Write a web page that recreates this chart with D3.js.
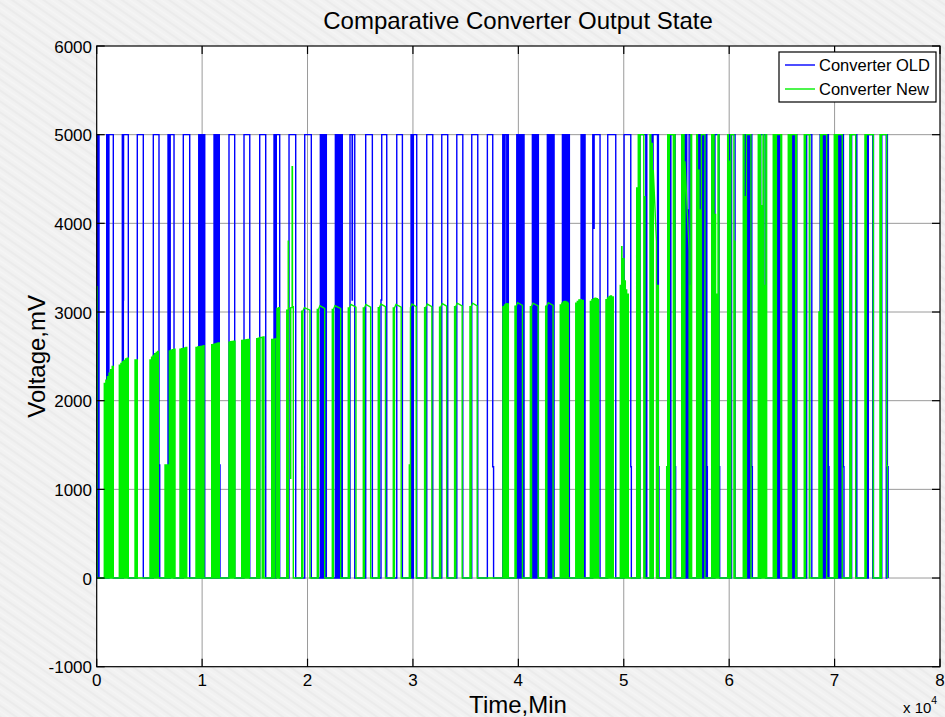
<!DOCTYPE html>
<html>
<head>
<meta charset="utf-8">
<script src="https://cdn.jsdelivr.net/npm/d3@7"></script>
<style>
  html, body { margin: 0; padding: 0; background: #f0f0f0; }
  svg { display: block; }
  text { font-family: "Liberation Sans", Arial, Helvetica, sans-serif; fill: #000; }
</style>
</head>
<body>
<svg id="chart" width="945" height="717"></svg>
<script>
// ---- axis ticks -------------------------------------------------------
const xTickValues = [0, 1, 2, 3, 4, 5, 6, 7, 8];          // in units of 10^4 min
const yTickValues = [-1000, 0, 1000, 2000, 3000, 4000, 5000, 6000];
const seriesNames = ["Converter OLD", "Converter New"];
const seriesColors = ["#0000ff", "#00f000"];

// ---- recorded output levels -------------------------------------------
// Each entry is a period where the output is above 0 V:
// [start min, end min, level mV] or [start, end, level at start, level at end].
// Between entries the output sits at 0 mV; touching entries step directly.
const oldSegments = [
  [0, 50, 5000], [100, 220, 5000],
  [950, 1000, 5000], [1060, 1110, 5000], [1160, 1575, 5000],
  [2430, 2480, 5000], [2530, 2550, 3135], [2550, 3000, 5000],
  [3850, 4420, 5000],
  [5370, 5910, 5000], [5910, 5980, 1275],
  [6765, 6815, 5000], [6870, 6920, 5000], [6975, 7335, 5000],
  [8215, 8825, 5000],
  [9680, 9755, 5000], [9830, 9905, 5000], [9980, 10055, 5000], [10130, 10250, 5000],
  [11130, 11205, 5000], [11280, 11300, 3135], [11300, 11355, 5000], [11430, 11505, 5000], [11560, 11630, 5000], [11630, 11700, 1275],
  [12550, 13090, 5000],
  [13975, 14520, 5000],
  [15465, 16035, 5000],
  [16820, 16870, 5000], [16930, 16980, 5000], [17040, 17360, 5000],
  [18245, 18880, 5000],
  [19735, 20360, 5000],
  [21215, 21290, 5000], [21365, 21440, 5000], [21515, 21590, 5000], [21665, 21785, 5000],
  [22640, 22715, 5000], [22790, 22865, 5000], [22940, 23015, 5000], [23090, 23165, 5000], [23220, 23300, 5000],
  [24030, 24230, 5000], [24230, 24260, 3135], [24260, 24480, 5000],
  [25520, 26150, 5000],
  [26970, 27040, 3135], [27040, 27515, 5000],
  [28465, 29000, 5000],
  [29820, 29870, 5000], [29930, 29980, 5000], [30040, 30360, 5000],
  [31310, 31880, 5000],
  [32735, 33300, 5000],
  [34160, 34730, 5000],
  [35580, 36150, 5000],
  [37060, 37570, 5000], [37570, 37650, 1255],
  [38520, 38570, 5000], [38630, 38680, 5000], [38740, 38900, 5000], [38960, 39050, 5000],
  [39850, 39925, 5000], [40000, 40075, 5000], [40150, 40225, 5000], [40300, 40375, 5000], [40450, 40540, 5000],
  [41330, 41405, 5000], [41480, 41555, 5000], [41630, 41705, 5000], [41780, 41900, 5000],
  [42750, 42825, 5000], [42900, 42975, 5000], [43050, 43125, 5000], [43200, 43275, 5000], [43330, 43390, 5000],
  [44180, 44255, 5000], [44330, 44405, 5000], [44480, 44555, 5000], [44630, 44705, 5000], [44760, 44840, 5000],
  [45950, 46025, 5000], [46100, 46175, 5000], [46250, 46330, 5000],
  [47060, 47150, 5000], [47150, 47190, 3945], [47190, 47750, 5000],
  [48480, 49240, 5000],
  [50030, 50665, 5000], [50665, 50720, 1255],
  [51425, 51475, 5000], [51540, 52090, 5000], [52150, 52185, 5000],
  [52660, 52720, 5000], [52780, 53200, 5000], [53250, 53285, 5000], [53285, 53340, 1255],
  [54175, 54250, 5000], [54320, 54395, 5000], [54470, 54870, 5000], [54870, 54920, 1255],
  [55600, 55675, 5000], [55750, 55825, 5000], [55900, 55975, 5000], [56050, 56125, 4150], [56200, 56360, 5000],
  [57080, 57155, 5000], [57230, 57305, 5000], [57380, 57455, 5000], [57530, 57605, 5000], [57680, 57755, 5000], [57800, 57880, 5000], [57880, 57930, 1255],
  [58505, 58580, 5000], [58650, 59040, 5000], [59040, 59100, 1255],
  [59930, 60005, 5000], [60080, 60155, 5000], [60230, 60560, 5000],
  [61445, 61520, 5000], [61595, 61670, 5000], [61745, 61820, 5000], [61895, 61970, 5000], [62045, 62150, 5000], [62150, 62200, 1255],
  [62840, 62915, 5000], [62990, 63410, 5000], [63410, 63460, 1255],
  [64290, 64365, 5000], [64440, 64515, 5000], [64590, 64665, 5000], [64740, 64830, 5000],
  [65685, 65760, 5000], [65835, 65910, 5000], [65985, 66060, 5000], [66135, 66210, 5000], [66285, 66415, 5000],
  [67200, 67275, 5000], [67350, 67840, 5000],
  [68625, 68700, 5000], [68775, 68850, 5000], [68925, 69000, 5000], [69075, 69150, 5000], [69225, 69300, 5000], [69350, 69415, 5000], [69415, 69470, 1255],
  [70115, 70190, 5000], [70265, 70340, 5000], [70415, 70490, 5000], [70565, 70640, 5000], [70715, 70840, 5000], [70840, 70890, 1255],
  [71475, 71550, 5000], [71620, 72040, 5000], [72070, 72110, 5000],
  [73060, 73130, 5000], [73200, 73620, 5000], [73650, 73690, 5000],
  [74480, 74900, 5000], [74950, 75010, 5000], [75010, 75080, 1255]
];

const newSegments = [
  [0, 30, 3285],
  [720, 795, 2195], [870, 945, 2230], [1020, 1095, 2270], [1170, 1245, 2310], [1320, 1395, 2350], [1470, 1575, 2385],
  [2145, 2220, 2400], [2295, 2370, 2420], [2445, 2520, 2440], [2595, 2670, 2455], [2745, 2820, 2470], [2895, 3000, 2480],
  [3635, 3700, 2460], [3780, 3850, 2460],
  [5055, 5130, 2460], [5205, 5280, 2490], [5355, 5430, 2510], [5505, 5580, 2530], [5655, 5730, 2545], [5780, 5845, 2555],
  [6480, 6550, 1275], [6630, 6700, 1275], [6780, 6850, 1275], [6890, 6960, 2560], [7040, 7110, 2570], [7190, 7260, 2575], [7340, 7430, 2580],
  [7900, 7975, 2580], [8050, 8125, 2585], [8200, 8275, 2590], [8350, 8425, 2595], [8470, 8540, 2600],
  [9420, 9495, 2600], [9570, 9645, 2605], [9720, 9795, 2610], [9870, 9945, 2612], [10020, 10095, 2615], [10130, 10180, 2620],
  [10910, 10985, 2630], [11060, 11135, 2635], [11210, 11285, 2640], [11360, 11435, 2645], [11510, 11630, 2650],
  [12550, 12625, 2660], [12700, 12775, 2665], [12850, 12925, 2668], [13000, 13120, 2670],
  [13755, 13830, 2680], [13905, 13980, 2683], [14055, 14130, 2686], [14205, 14280, 2688], [14355, 14475, 2690],
  [15180, 15255, 2700], [15330, 15405, 2705], [15480, 15700, 2712], [15780, 15870, 2720],
  [16600, 16675, 2690], [16750, 16825, 2692], [16900, 17060, 2695], [17100, 17175, 3040], [17250, 17320, 3050],
  [18025, 18100, 3020], [18170, 18190, 3800], [18190, 18380, 3040], [18380, 18410, 1125], [18410, 18540, 3050], [18540, 18570, 4640], [18570, 18650, 3060],
  [19445, 19495, 3010], [19555, 19700, 3010, 3050], [19700, 20235, 3050, 3020],
  [20925, 20975, 3030], [21035, 21180, 3030, 3070], [21180, 21630, 3070, 3040],
  [22350, 22400, 3030], [22460, 22600, 3030, 3070], [22600, 23145, 3070, 3040],
  [23865, 23915, 3045], [23975, 24120, 3045, 3085], [24120, 24595, 3085, 3055],
  [25290, 25340, 3045], [25400, 25540, 3045, 3085], [25540, 25990, 3085, 3055],
  [26710, 26760, 3050], [26820, 26960, 3050, 3090], [26960, 27395, 3090, 3060],
  [28135, 28185, 3045], [28245, 28390, 3045, 3085], [28390, 28885, 3085, 3055],
  [29655, 29705, 1275], [29765, 29910, 3050, 3090], [29910, 30310, 3090, 3060],
  [31105, 31155, 3050], [31215, 31360, 3050, 3090], [31360, 31795, 3090, 3060],
  [32525, 32575, 3055], [32635, 32780, 3055, 3095], [32780, 33200, 3095, 3065],
  [33950, 34000, 3060], [34060, 34200, 3060, 3100], [34200, 34670, 3100, 3070],
  [35410, 35460, 3060], [35520, 35660, 3060, 3100], [35660, 36095, 3100, 3070],
  [38540, 38615, 3060], [38690, 38765, 3080], [38840, 38915, 3095], [38970, 39045, 3090],
  [39680, 39730, 3065], [39790, 39930, 3065, 3105], [39930, 40390, 3105, 3075],
  [41140, 41190, 3060], [41250, 41390, 3060, 3100], [41390, 41880, 3100, 3070],
  [42590, 42640, 3065], [42700, 42840, 3065, 3105], [42840, 43295, 3105, 3075],
  [43975, 44050, 3080], [44125, 44200, 3100], [44200, 44220, 820], [44275, 44350, 3115], [44425, 44500, 3120], [44575, 44650, 3110], [44690, 44735, 3100],
  [45445, 45520, 3100], [45595, 45670, 3120], [45745, 45820, 3135], [45895, 45970, 3140], [46045, 46160, 3130],
  [46830, 46905, 3120], [46980, 47055, 3140], [47130, 47205, 3150], [47280, 47355, 3155], [47430, 47505, 3150], [47560, 47610, 3140],
  [48310, 48385, 3140], [48460, 48535, 3160], [48610, 48685, 3175], [48760, 48835, 3180], [48910, 49005, 3170],
  [49670, 49745, 3300], [49800, 49830, 3737], [49830, 49900, 3450], [49950, 50025, 3600], [50080, 50150, 3350], [50200, 50275, 3250], [50330, 50430, 3200],
  [51225, 51300, 4400], [51375, 51450, 5000], [51550, 51900, 5000], [51950, 52010, 4300],
  [52485, 52560, 5000], [52635, 52710, 4900], [52800, 53100, 4600, 3800], [53180, 53275, 3300],
  [54070, 54120, 1255], [54170, 54245, 5000], [54320, 54700, 5000], [54770, 54860, 5000],
  [55495, 55570, 5000], [55645, 55720, 5000], [55800, 56200, 4700, 3700], [56245, 56320, 3300], [56370, 56440, 5000],
  [56915, 56990, 5000], [57065, 57140, 4600], [57215, 57290, 4150], [57365, 57700, 5000],
  [58340, 58415, 5000], [58490, 58565, 5000], [58640, 58715, 4100], [58790, 58865, 3200], [58940, 59030, 5000],
  [59855, 59930, 5000], [60005, 60080, 4700], [60155, 60450, 5000], [60470, 60550, 3800],
  [61335, 61410, 5000], [61485, 61560, 4300], [61635, 62065, 5000],
  [62760, 62835, 5000], [62910, 62985, 5000], [63060, 63135, 4200], [63210, 63285, 5000], [63360, 63435, 3300], [63485, 63555, 5000],
  [64180, 64255, 5000], [64330, 64405, 5000], [64480, 64900, 5000], [64910, 64980, 5000],
  [65605, 65680, 5000], [65755, 65830, 5000], [65905, 66300, 5000], [66330, 66400, 5000],
  [67120, 67180, 5000], [67240, 67600, 5000], [67620, 67660, 5000],
  [68515, 68590, 3000], [68665, 68740, 5000], [68815, 69245, 5000],
  [69970, 70045, 5000], [70120, 70195, 5000], [70270, 70725, 5000],
  [71460, 71520, 5000], [71580, 72000, 5000],
  [72880, 72940, 5000], [73000, 73670, 5000],
  [74305, 74370, 5000], [74430, 74940, 5000], [74940, 75000, 1265]
];

// ---- layout -----------------------------------------------------------
const W = 945, H = 717;
const plot = { left: 96.7, right: 940, top: 46, bottom: 666.7 };
const tickLen = 8;

const svg = d3.select("#chart");

// soft paper backdrop
const defs = svg.append("defs");
const pat = defs.append("pattern")
  .attr("id", "paper").attr("patternUnits", "userSpaceOnUse")
  .attr("width", 9).attr("height", 9)
  .attr("patternTransform", "rotate(35)");
pat.append("rect").attr("width", 9).attr("height", 9).attr("fill", "#f1f1f1");
pat.append("line").attr("x1", 0).attr("y1", 2).attr("x2", 9).attr("y2", 2)
  .attr("stroke", "#eaeaea").attr("stroke-width", 1.5);
pat.append("line").attr("x1", 0).attr("y1", 6.5).attr("x2", 9).attr("y2", 6.5)
  .attr("stroke", "#f5f5f5").attr("stroke-width", 1.5);
svg.append("rect").attr("width", W).attr("height", H).attr("fill", "url(#paper)");

defs.append("clipPath").attr("id", "plotClip")
  .append("rect")
  .attr("x", plot.left).attr("y", plot.top)
  .attr("width", plot.right - plot.left).attr("height", plot.bottom - plot.top);

const x = d3.scaleLinear().domain([0, 80000]).range([plot.left, plot.right]);
const y = d3.scaleLinear().domain([-1000, 6000]).range([plot.bottom, plot.top]);

// plot area
svg.append("rect")
  .attr("x", plot.left).attr("y", plot.top)
  .attr("width", plot.right - plot.left).attr("height", plot.bottom - plot.top)
  .attr("fill", "#ffffff");

// grid
const grid = svg.append("g").attr("stroke", "#9a9a9a").attr("stroke-width", 1);
grid.selectAll(".gx").data(xTickValues.slice(1, -1)).join("line")
  .attr("x1", d => x(d * 1e4)).attr("x2", d => x(d * 1e4))
  .attr("y1", plot.top).attr("y2", plot.bottom);
grid.selectAll(".gy").data(yTickValues.slice(1, -1)).join("line")
  .attr("y1", d => y(d)).attr("y2", d => y(d))
  .attr("x1", plot.left).attr("x2", plot.right);

// signal traces
function stepPoints(segs) {
  const pts = [];
  let prevEnd = null;
  segs.forEach(s => {
    const t0 = s[0], t1 = s[1], v0 = s[2], v1 = s.length > 3 ? s[3] : s[2];
    if (prevEnd === null) pts.push([t0, 0]);
    else if (t0 > prevEnd) { pts.push([prevEnd, 0]); pts.push([t0, 0]); }
    pts.push([t0, v0]);
    pts.push([t1, v1]);
    prevEnd = t1;
  });
  pts.push([prevEnd, 0]);
  return pts;
}

const line = d3.line().x(d => x(d[0])).y(d => y(d[1]));
const traces = svg.append("g").attr("clip-path", "url(#plotClip)");
[oldSegments, newSegments].forEach((segs, i) => {
  traces.append("path")
    .attr("d", line(stepPoints(segs)))
    .attr("fill", "none")
    .attr("stroke", seriesColors[i])
    .attr("stroke-width", 1.4)
    .attr("stroke-linejoin", "miter");
});

// axes box and inward ticks on all four sides
const axes = svg.append("g").attr("stroke", "#000").attr("stroke-width", 1.2).attr("fill", "none");
axes.append("rect")
  .attr("x", plot.left).attr("y", plot.top)
  .attr("width", plot.right - plot.left).attr("height", plot.bottom - plot.top);
xTickValues.forEach(d => {
  const px = x(d * 1e4);
  axes.append("line").attr("x1", px).attr("x2", px).attr("y1", plot.bottom).attr("y2", plot.bottom - tickLen);
  axes.append("line").attr("x1", px).attr("x2", px).attr("y1", plot.top).attr("y2", plot.top + tickLen);
});
yTickValues.forEach(d => {
  const py = y(d);
  axes.append("line").attr("y1", py).attr("y2", py).attr("x1", plot.left).attr("x2", plot.left + tickLen);
  axes.append("line").attr("y1", py).attr("y2", py).attr("x1", plot.right).attr("x2", plot.right - tickLen);
});

// tick labels
svg.append("g").selectAll("text").data(xTickValues).join("text")
  .attr("x", d => x(d * 1e4)).attr("y", 686)
  .attr("text-anchor", "middle").attr("font-size", 17)
  .text(d => d);
svg.append("g").selectAll("text").data(yTickValues).join("text")
  .attr("x", 92).attr("y", d => y(d) + 6.5)
  .attr("text-anchor", "end").attr("font-size", 17)
  .text(d => d);

// exponent note for the time axis
const expo = svg.append("text").attr("x", 903).attr("y", 713).attr("font-size", 15);
expo.append("tspan").text("x 10");
expo.append("tspan").attr("font-size", 10.5).attr("dy", -9).text("4");

// titles
svg.append("text").attr("x", 518).attr("y", 29)
  .attr("text-anchor", "middle").attr("font-size", 24)
  .text("Comparative Converter Output State");
svg.append("text").attr("x", 518).attr("y", 712.5)
  .attr("text-anchor", "middle").attr("font-size", 24)
  .text("Time,Min");
svg.append("text")
  .attr("transform", `translate(45, ${(plot.top + plot.bottom) / 2}) rotate(-90)`)
  .attr("text-anchor", "middle").attr("font-size", 24)
  .text("Voltage,mV");

// legend
const lg = svg.append("g");
lg.append("rect").attr("x", 779).attr("y", 52).attr("width", 157).attr("height", 50)
  .attr("fill", "#fff").attr("stroke", "#000").attr("stroke-width", 1.2);
seriesNames.forEach((name, i) => {
  const ly = 65 + i * 24;
  lg.append("line").attr("x1", 785).attr("x2", 815).attr("y1", ly).attr("y2", ly)
    .attr("stroke", seriesColors[i]).attr("stroke-width", 1.4);
  lg.append("text").attr("x", 819).attr("y", ly + 6).attr("font-size", 16.5).text(name);
});
</script>
</body>
</html>
